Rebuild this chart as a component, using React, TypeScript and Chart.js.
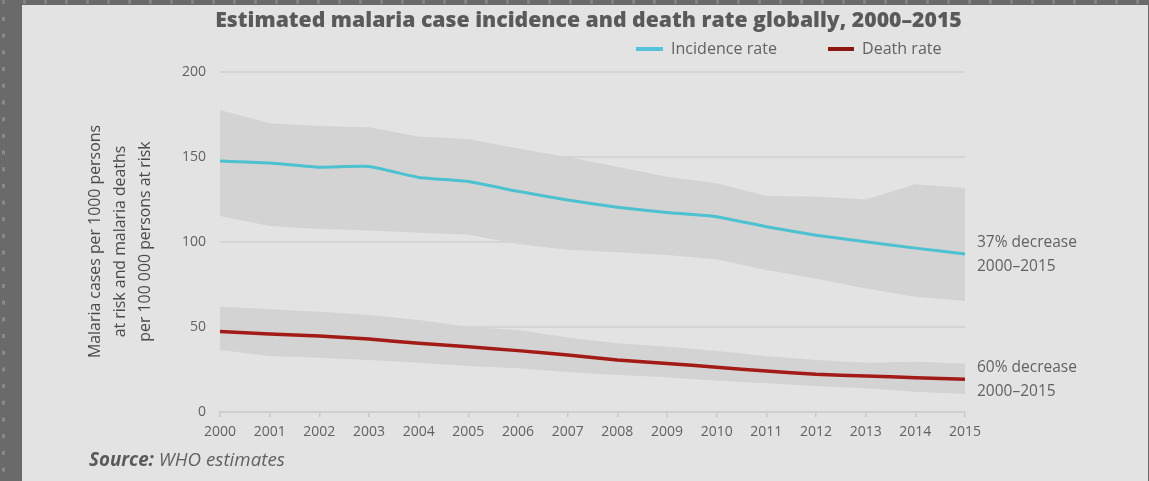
import React, { useEffect, useRef } from "react";
import { Chart, registerables } from "chart.js";

Chart.register(...registerables);

// ---- Data ----
const years = ["2000", "2001", "2002", "2003", "2004", "2005", "2006", "2007", "2008", "2009", "2010", "2011", "2012", "2013", "2014", "2015"];
const incidenceRate = [147.6, 146.5, 144.0, 144.4, 138.0, 135.6, 129.8, 124.7, 120.5, 117.3, 114.9, 109.0, 104.0, 100.2, 96.4, 93.0];
const incidenceUpper = [177.6, 169.8, 168.2, 167.5, 162.0, 160.6, 155.0, 150.0, 144.3, 138.4, 134.5, 127.0, 126.7, 125.0, 134.0, 131.8];
const incidenceLower = [115.3, 109.4, 107.6, 106.7, 105.5, 104.3, 98.8, 95.5, 93.9, 92.4, 89.8, 83.5, 78.6, 72.7, 67.8, 65.3];
const deathRate = [47.3, 45.9, 44.7, 42.9, 40.4, 38.4, 36.1, 33.5, 30.6, 28.6, 26.3, 24.1, 22.2, 21.2, 20.2, 19.2];
const deathUpper = [62.0, 60.4, 59.0, 57.0, 54.1, 50.2, 48.2, 43.8, 40.4, 38.4, 35.9, 32.9, 30.6, 29.0, 29.6, 28.6];
const deathLower = [36.5, 32.9, 31.9, 30.6, 29.0, 27.1, 25.7, 23.6, 21.8, 20.4, 18.4, 16.9, 15.3, 13.9, 11.9, 10.6];
const yMin = 0;
const yMax = 200;
const yStep = 50;

const titleText = "Estimated malaria case incidence and death rate globally, 2000\u20132015";
const legendLabels = ["Incidence rate", "Death rate"];
const yTitleLines = ["Malaria cases per 1000 persons", "at risk and malaria deaths", "per 100 000 persons at risk"];
const annotations = ["37% decrease", "2000\u20132015", "60% decrease", "2000\u20132015"];
const sourceBold = "Source:";
const sourceRest = " WHO estimates";

const TEAL = "#4cc1cf";
const RED = "#a31b16";
const BAND = "#d3d3d3";
const BG = "#e3e3e3";
const TEXT = "#626262";
const FONT = "'Open Sans', 'DejaVu Sans', sans-serif";

function fitSize(ctx: CanvasRenderingContext2D, text: string, prefix: string, target: number) {
  ctx.font = `${prefix} 20px ${FONT}`;
  const w = ctx.measureText(text).width;
  return (20 * target) / w;
}

const textPlugin = {
  id: "texts",
  afterDraw(chart: any) {
    const ctx: CanvasRenderingContext2D = chart.ctx;
    ctx.save();
    ctx.fillStyle = TEXT;
    ctx.textBaseline = "middle";

    // Title
    const ts = fitSize(ctx, titleText, "800", 747);
    ctx.font = `800 ${ts}px ${FONT}`;
    ctx.fillStyle = "#5a5a5a";
    ctx.textAlign = "center";
    ctx.fillText(titleText, 566.5, 16);

    // Legend
    ctx.textAlign = "left";
    ctx.fillStyle = TEXT;
    const ls = fitSize(ctx, legendLabels[0], "normal", 106);
    ctx.font = `normal ${ls}px ${FONT}`;
    ctx.lineWidth = 4;
    ctx.strokeStyle = "#56c3dc";
    ctx.beginPath();
    ctx.moveTo(614, 44);
    ctx.lineTo(641, 44);
    ctx.stroke();
    ctx.fillText(legendLabels[0], 649, 44);
    ctx.strokeStyle = "#8c1610";
    ctx.beginPath();
    ctx.moveTo(806, 44);
    ctx.lineTo(832, 44);
    ctx.stroke();
    ctx.fillText(legendLabels[1], 840, 44);

    // Y axis title (rotated)
    const ys = fitSize(ctx, yTitleLines[0], "normal", 233);
    ctx.font = `normal ${ys}px ${FONT}`;
    ctx.fillStyle = "#4a4a4a";
    const xs = [73, 98, 123];
    yTitleLines.forEach((line, i) => {
      ctx.save();
      ctx.translate(xs[i], 236.5);
      ctx.rotate(-Math.PI / 2);
      ctx.textAlign = "center";
      ctx.fillText(line, 0, 0);
      ctx.restore();
    });

    // Right annotations
    const as = fitSize(ctx, annotations[0], "normal", 100);
    ctx.font = `normal ${as}px ${FONT}`;
    ctx.fillStyle = TEXT;
    ctx.textAlign = "left";
    const ay = [238, 262, 363, 387];
    annotations.forEach((t, i) => ctx.fillText(t, 955, ay[i]));

    // Source
    const ss = fitSize(ctx, sourceBold + sourceRest, "italic bold", 206);
    ctx.font = `italic bold ${ss}px ${FONT}`;
    ctx.fillStyle = "#5a5a5a";
    ctx.fillText(sourceBold, 67, 456);
    const bw = ctx.measureText(sourceBold).width;
    ctx.font = `italic normal ${ss}px ${FONT}`;
    ctx.fillStyle = TEXT;
    ctx.fillText(sourceRest, 67 + bw, 456);

    ctx.restore();
  },
};

export default function App() {
  const ref = useRef<HTMLCanvasElement | null>(null);

  useEffect(() => {
    document.body.style.margin = "0";
    const canvas = ref.current;
    if (!canvas) return;
    const chart = new Chart(canvas, {
      type: "line",
      data: {
        labels: years,
        datasets: [
          { data: incidenceUpper, fill: "+1", backgroundColor: BAND, borderWidth: 0, pointRadius: 0, tension: 0, order: 2 },
          { data: incidenceLower, fill: false, borderWidth: 0, pointRadius: 0, tension: 0, order: 2 },
          { data: deathUpper, fill: "+1", backgroundColor: BAND, borderWidth: 0, pointRadius: 0, tension: 0, order: 2 },
          { data: deathLower, fill: false, borderWidth: 0, pointRadius: 0, tension: 0, order: 2 },
          { label: legendLabels[0], data: incidenceRate, borderColor: TEAL, borderWidth: 3, pointRadius: 0, fill: false, tension: 0.15, order: 0 },
          { label: legendLabels[1], data: deathRate, borderColor: RED, borderWidth: 3.5, pointRadius: 0, fill: false, tension: 0.15, order: 0 },
        ],
      },
      options: {
        animation: false,
        responsive: false,
        maintainAspectRatio: false,
        layout: { padding: { top: 67, right: 183, bottom: 0, left: 0 } },
        plugins: {
          legend: { display: false },
          title: { display: false },
          tooltip: { enabled: false },
        },
        scales: {
          x: {
            type: "category",
            offset: false,
            grid: { drawOnChartArea: false, drawTicks: true, tickLength: 5, color: "#c9c9c9", lineWidth: 1.5 },
            border: { display: true, color: "#cccccc", width: 1.5 },
            ticks: { color: TEXT, font: { family: FONT, size: 14 }, padding: 7, maxRotation: 0, autoSkip: false },
            afterFit: (s: any) => {
              s.height = 69;
            },
          },
          y: {
            min: yMin,
            max: yMax,
            ticks: { stepSize: yStep, padding: 14, color: TEXT, font: { family: FONT, size: 14 } },
            grid: { color: "#d5d5d5", lineWidth: 2, drawTicks: false },
            border: { display: false },
            afterFit: (s: any) => {
              s.width = 198;
            },
          },
        },
      },
      plugins: [textPlugin],
    });
    return () => chart.destroy();
  }, []);

  return (
    <div style={{ position: "absolute", left: 0, top: 0, width: 1149, height: 481, background: "#6a6a6a", overflow: "hidden" }}>
      <div
        style={{
          position: "absolute",
          left: 2,
          top: 17,
          width: 3,
          height: 470,
          backgroundImage: "linear-gradient(to bottom, #8a8a8a 0px, #8a8a8a 4px, transparent 4px)",
          backgroundSize: "3px 16.7px",
          backgroundRepeat: "repeat-y",
        }}
      />
      <div
        style={{
          position: "absolute",
          left: 2,
          top: 0,
          width: 1145,
          height: 4,
          backgroundImage: "linear-gradient(to right, #828282 0px, #828282 3px, transparent 3px)",
          backgroundSize: "21px 4px",
          backgroundRepeat: "repeat-x",
        }}
      />
      <div style={{ position: "absolute", left: 22, top: 5, width: 1126, height: 476, background: BG }}>
        <canvas ref={ref} width={1126} height={476} style={{ display: "block", width: 1126, height: 476 }} />
      </div>
    </div>
  );
}
